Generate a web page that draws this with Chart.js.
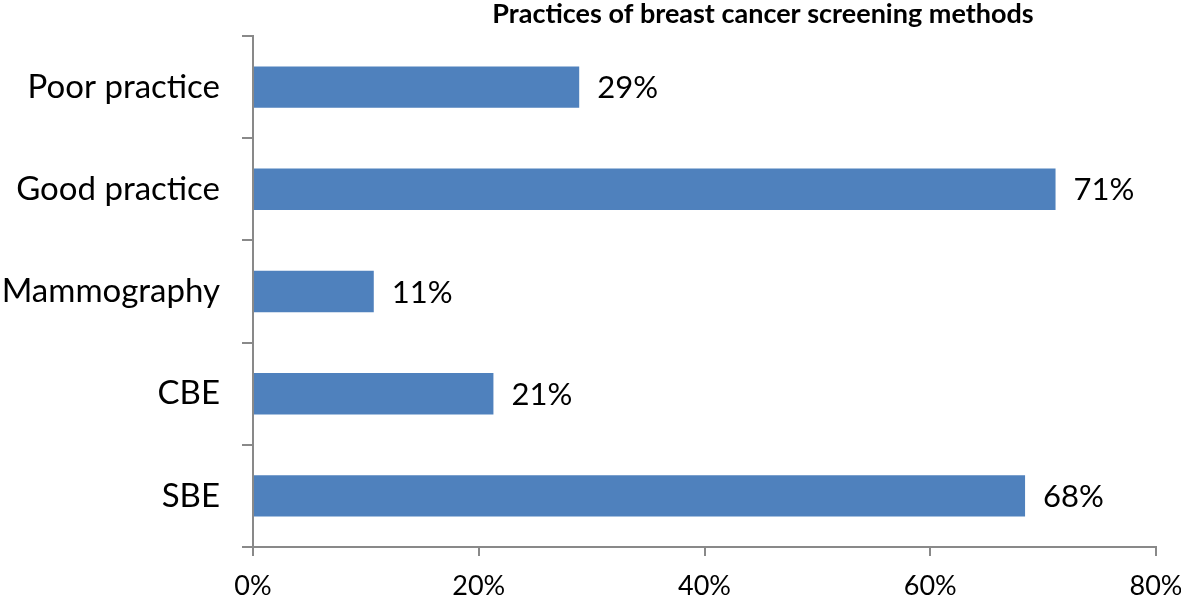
<!DOCTYPE html>
<html>
<head>
<meta charset="utf-8">
<script src="https://cdn.jsdelivr.net/npm/chart.js@4/dist/chart.umd.min.js"></script>
<style>
html,body{margin:0;padding:0;background:#fff;}
#wrap{width:1181px;height:595px;position:relative;}
</style>
</head>
<body>
<div id="wrap"><canvas id="c" width="1181" height="595"></canvas></div>
<script>
const categories = ['Poor practice', 'Good practice', 'Mammography', 'CBE', 'SBE'];
const values = [28.9, 71.1, 10.7, 21.3, 68.4];
const valueLabels = ['29%', '71%', '11%', '21%', '68%'];
const xTicks = [0, 20, 40, 60, 80];
const titleText = 'Practices of breast cancer screening methods';

const FONT = 'Lato, "Open Sans", sans-serif';

const barLabelPlugin = {
  id: 'barLabels',
  afterDatasetsDraw(chart) {
    const ctx = chart.ctx;
    const meta = chart.getDatasetMeta(0);
    ctx.save();
    ctx.font = '31px ' + FONT;
    ctx.fillStyle = '#000';
    ctx.textAlign = 'left';
    ctx.textBaseline = 'middle';
    meta.data.forEach((bar, i) => {
      ctx.fillText(valueLabels[i], bar.x + 18, bar.y + 1);
    });
    ctx.restore();
  }
};

const titlePlugin = {
  id: 'customTitle',
  afterDraw(chart) {
    const ctx = chart.ctx;
    ctx.save();
    ctx.font = 'bold 27px ' + FONT;
    ctx.fillStyle = '#000';
    ctx.textAlign = 'center';
    ctx.textBaseline = 'middle';
    ctx.fillText(titleText, 763, 14);
    ctx.restore();
  }
};

new Chart(document.getElementById('c'), {
  type: 'bar',
  data: {
    labels: categories,
    datasets: [{
      data: values,
      backgroundColor: '#4f81bd',
      borderWidth: 0,
      barPercentage: 0.81,
      categoryPercentage: 0.5
    }]
  },
  options: {
    indexAxis: 'y',
    responsive: false,
    animation: false,
    layout: { padding: { left: 0, right: 25, top: 36, bottom: 0 } },
    plugins: { legend: { display: false }, tooltip: { enabled: false }, title: { display: false } },
    scales: {
      x: {
        min: 0, max: 80,
        afterFit(scale) { scale.height = 48; scale.paddingLeft = 0; scale.paddingRight = 0; },
        afterBuildTicks(scale) { scale.ticks = xTicks.map(v => ({ value: v })); },
        grid: { drawOnChartArea: false, drawTicks: true, tickLength: 9, color: '#898989', lineWidth: 2 },
        border: { display: true, color: '#898989', width: 2 },
        ticks: {
          font: { family: FONT, size: 27 },
          color: '#000',
          padding: 14,
          maxRotation: 0,
          callback: v => v + '%'
        }
      },
      y: {
        afterFit(scale) { scale.width = 253; scale.paddingTop = 0; scale.paddingBottom = 0; },
        grid: { drawOnChartArea: false, drawTicks: true, tickLength: 11, color: '#898989', lineWidth: 2, offset: true },
        border: { display: true, color: '#898989', width: 2 },
        ticks: {
          font: { family: FONT, size: 33 },
          color: '#000',
          padding: 22
        }
      }
    }
  },
  plugins: [barLabelPlugin, titlePlugin]
});
</script>
</body>
</html>
